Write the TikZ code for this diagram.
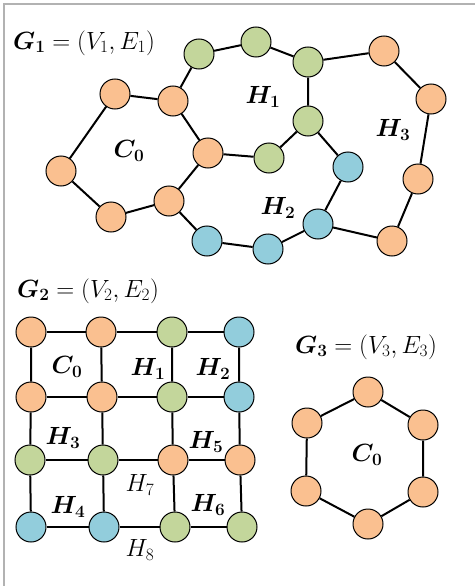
\documentclass[tikz,border=0pt]{standalone}
\usepackage{bm}
\definecolor{orn}{HTML}{FAC090}
\definecolor{grn}{HTML}{C3D69B}
\definecolor{blu}{HTML}{92CDDC}
\begin{document}
\begin{tikzpicture}[x=1pt,y=-1pt,
  vtx/.style={circle,draw=black,line width=1pt,minimum size=30pt,inner sep=0pt},
  O/.style={vtx,fill=orn},
  G/.style={vtx,fill=grn},
  B/.style={vtx,fill=blu},
  edge/.style={line width=2pt},
  lbl/.style={font=\fontsize{24}{28}\selectfont,inner sep=0pt},
  frame/.style={draw=gray!60,line width=1.2pt}]
\useasboundingbox (0,0) rectangle (475,586);
\coordinate (fa) at (4,586);
\coordinate (fb) at (4,4);
\coordinate (fc) at (475,4);
\draw[frame] (fa) -- (fb) -- (fc);

% ---------- G1 ----------
\node[lbl,anchor=west] (l1) at (13,43) {$\bm{G_1} = (V_1, E_1)$};
\node[O] (a1) at (115,94) {};
\node[O] (a2) at (173,101) {};
\node[O] (a3) at (61,171) {};
\node[O] (a4) at (208,153) {};
\node[O] (a5) at (111,217) {};
\node[O] (a6) at (169,201) {};
\node[G] (g1) at (199,54) {};
\node[G] (g2) at (256,42) {};
\node[G] (g3) at (308,62) {};
\node[G] (g4) at (308,121) {};
\node[G] (g5) at (269,158) {};
\node[B] (b1) at (207,241) {};
\node[B] (b2) at (268,249) {};
\node[B] (b3) at (318,224) {};
\node[B] (b4) at (348,167) {};
\node[O] (o1) at (384,51) {};
\node[O] (o2) at (431,99) {};
\node[O] (o3) at (418,179) {};
\node[O] (o4) at (392,241) {};
\draw[edge] (a1) -- (a2) -- (a4) -- (a6) -- (a5) -- (a3) -- (a1);
\draw[edge] (a2) -- (g1) -- (g2) -- (g3) -- (g4) -- (g5) -- (a4);
\draw[edge] (a6) -- (b1) -- (b2) -- (b3) -- (b4) -- (g4);
\draw[edge] (g3) -- (o1) -- (o2) -- (o3) -- (o4) -- (b3);
\node[lbl] (c0a) at (129,151) {$\bm{C_0}$};
\node[lbl] (h1a) at (263,97) {$\bm{H_1}$};
\node[lbl] (h2a) at (278,208) {$\bm{H_2}$};
\node[lbl] (h3a) at (393,130) {$\bm{H_3}$};

% ---------- G2 ----------
\node[lbl,anchor=west] (l2) at (17,291) {$\bm{G_2} = (V_2, E_2)$};
\node[O] (p11) at (31,332) {};
\node[O] (p12) at (101,332) {};
\node[G] (p13) at (172,332) {};
\node[B] (p14) at (239,332) {};
\node[O] (p21) at (31,397) {};
\node[O] (p22) at (102,397) {};
\node[G] (p23) at (172,397) {};
\node[B] (p24) at (239,397) {};
\node[G] (p31) at (30,460) {};
\node[G] (p32) at (103,460) {};
\node[O] (p33) at (173,460) {};
\node[O] (p34) at (240,460) {};
\node[B] (p41) at (31,527) {};
\node[B] (p42) at (104,527) {};
\node[G] (p43) at (175,527) {};
\node[G] (p44) at (242,527) {};
\foreach \r in {1,2,3,4}{
  \draw[edge] (p\r1) -- (p\r2) -- (p\r3) -- (p\r4);
  \draw[edge] (p1\r) -- (p2\r) -- (p3\r) -- (p4\r);
}
\node[lbl] (c0b) at (67,367) {$\bm{C_0}$};
\node[lbl] (h1b) at (148,369) {$\bm{H_1}$};
\node[lbl] (h2b) at (213,369) {$\bm{H_2}$};
\node[lbl] (h3b) at (63,438) {$\bm{H_3}$};
\node[lbl] (h5b) at (206,442) {$\bm{H_5}$};
\node[lbl] (h7b) at (140,485) {$H_7$};
\node[lbl] (h4b) at (68,507) {$\bm{H_4}$};
\node[lbl] (h6b) at (208,505) {$\bm{H_6}$};
\node[lbl] (h8b) at (140,550) {$H_8$};

% ---------- G3 ----------
\node[lbl,anchor=west] (l3) at (295,347) {$\bm{G_3} = (V_3, E_3)$};
\node[O] (q1) at (368,392) {};
\node[O] (q2) at (423,425) {};
\node[O] (q3) at (423,492) {};
\node[O] (q4) at (368,524) {};
\node[O] (q5) at (306,491) {};
\node[O] (q6) at (307,423) {};
\draw[edge] (q1) -- (q2) -- (q3) -- (q4) -- (q5) -- (q6) -- (q1);
\node[lbl] (c0c) at (367,455) {$\bm{C_0}$};
\end{tikzpicture}
\end{document}
